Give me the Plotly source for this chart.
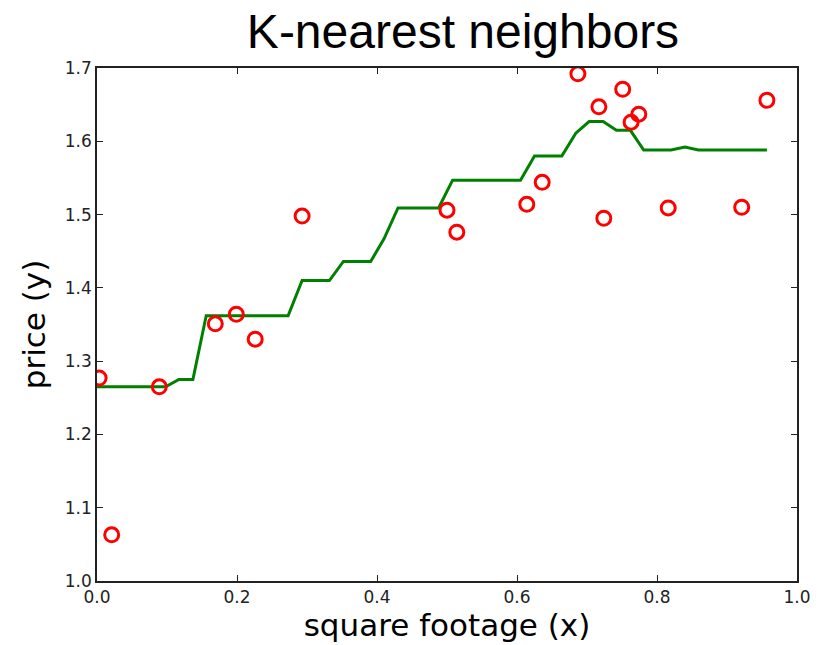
import plotly.graph_objects as go

# observed data points
pts_x = [0.003, 0.021, 0.089, 0.169, 0.199, 0.226, 0.293, 0.500, 0.514, 0.614,
         0.636, 0.687, 0.717, 0.724, 0.751, 0.763, 0.774, 0.816, 0.921, 0.957]
pts_y = [1.277, 1.063, 1.265, 1.351, 1.364, 1.330, 1.498, 1.506, 1.476, 1.514,
         1.544, 1.692, 1.647, 1.495, 1.671, 1.626, 1.637, 1.509, 1.510, 1.656]

# KNN prediction curve (vertices)
fit_x = [0.0, 0.098, 0.117, 0.137, 0.156, 0.273, 0.293, 0.332, 0.352, 0.391,
         0.410, 0.430, 0.488, 0.508, 0.605, 0.625, 0.664, 0.684, 0.703, 0.723,
         0.742, 0.762, 0.781, 0.820, 0.840, 0.859, 0.957]
fit_y = [1.265, 1.265, 1.275, 1.275, 1.362, 1.362, 1.410, 1.410, 1.436, 1.436,
         1.467, 1.509, 1.509, 1.547, 1.547, 1.580, 1.580, 1.611, 1.627, 1.627,
         1.615, 1.615, 1.588, 1.588, 1.592, 1.588, 1.588]

x_ticks = [0.0, 0.2, 0.4, 0.6, 0.8, 1.0]
x_tick_labels = ["0.0", "0.2", "0.4", "0.6", "0.8", "1.0"]
y_ticks = [1.0, 1.1, 1.2, 1.3, 1.4, 1.5, 1.6, 1.7]
y_tick_labels = ["1.0", "1.1", "1.2", "1.3", "1.4", "1.5", "1.6", "1.7"]

fig = go.Figure()
fig.add_trace(go.Scatter(x=fit_x, y=fit_y, mode="lines",
                         line=dict(color="#008000", width=3), showlegend=False))
fig.add_trace(go.Scatter(x=pts_x, y=pts_y, mode="markers",
                         marker=dict(symbol="circle-open", size=14,
                                     color="#ff0000", line=dict(width=3, color="#ff0000")),
                         showlegend=False))

axis_common = dict(showgrid=False, zeroline=False, showline=True, linecolor="#222",
                   linewidth=1.5, mirror="ticks", ticks="inside", ticklen=6,
                   tickcolor="#222", tickwidth=1, automargin=False,
                   tickfont=dict(family="DejaVu Sans", size=17, color="#222"))

fig.update_layout(
    width=823, height=645,
    margin=dict(l=97, r=26, t=68, b=64),
    paper_bgcolor="white", plot_bgcolor="white",
    title=dict(text="K-nearest neighbors", x=463/823, xanchor="center", xref="container",
               y=1 - 31/645, yanchor="middle", yref="container",
               font=dict(family="Liberation Sans, Arial", size=48, color="black")),
    xaxis=dict(range=[0, 1], tickvals=x_ticks, ticktext=x_tick_labels,
               title=dict(text="square footage (x)", standoff=8,
                          font=dict(family="DejaVu Sans", size=31, color="black")),
               **axis_common),
    yaxis=dict(range=[1.0, 1.7], tickvals=y_ticks, ticktext=y_tick_labels,
               title=dict(text="price (y)", standoff=10,
                          font=dict(family="DejaVu Sans", size=31, color="black")),
               **axis_common),
)

fig.write_html("out.html")
